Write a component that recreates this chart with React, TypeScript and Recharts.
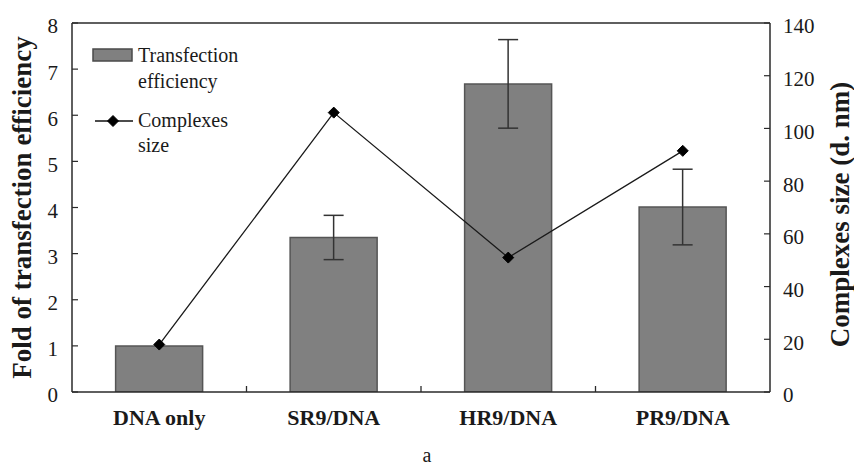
import React from 'react';
import { ComposedChart, Bar, Line, XAxis, YAxis, ErrorBar, ReferenceLine, Legend } from 'recharts';

const categories = ['DNA only', 'SR9/DNA', 'HR9/DNA', 'PR9/DNA'];
const efficiency = [1.0, 3.35, 6.68, 4.01];
const efficiencyError: (number | null)[] = [null, 0.48, 0.96, 0.82];
const complexSize = [18, 106, 51, 91.5];
const leftTicks = [0, 1, 2, 3, 4, 5, 6, 7, 8];
const rightTicks = [0, 20, 40, 60, 80, 100, 120, 140];
const seriesNames = ['Transfection efficiency', 'Complexes size'];
const leftTitle = 'Fold of transfection efficiency';
const rightTitle = 'Complexes size (d. nm)';
const panelLabel = 'a';

const data = categories.map((c, i) => ({
  category: c,
  efficiency: efficiency[i],
  err: efficiencyError[i],
  size: complexSize[i],
}));

const FONT = 'Liberation Serif, Tinos, DejaVu Serif, serif';
const AXIS = '#2a2a2a';
const TEXT = '#1a1a1a';

const Diamond = (props: any) => {
  const { cx, cy } = props;
  if (cx == null || cy == null) return null;
  const r = 5.5;
  return (
    <polygon
      points={`${cx},${cy - r} ${cx + r},${cy} ${cx},${cy + r} ${cx - r},${cy}`}
      fill="#000"
      stroke="#000"
    />
  );
};

const CategoryTick = (props: any) => {
  const { x, y, payload, index } = props;
  const half = payload && typeof payload.offset === 'number' && payload.offset > 0 ? payload.offset : 87.25;
  return (
    <g>
      <text
        x={x}
        y={y + 33}
        textAnchor="middle"
        style={{ fontFamily: FONT, fontWeight: 'bold', fontSize: 22 }}
        fill={TEXT}
      >
        {payload.value}
      </text>
      {index < categories.length - 1 && (
        <line x1={x + half} x2={x + half} y1={y} y2={y - 6} stroke={AXIS} strokeWidth={1.3} />
      )}
    </g>
  );
};

const renderLegend = (props: any) => {
  const payload = props.payload || [];
  const bar = payload.find((p: any) => p.dataKey === 'efficiency');
  const line = payload.find((p: any) => p.dataKey === 'size');
  const split = (s: string) => {
    const i = s.indexOf(' ');
    return [s.slice(0, i), s.slice(i + 1)];
  };
  const barName = split(bar ? String(bar.value) : seriesNames[0]);
  const lineName = split(line ? String(line.value) : seriesNames[1]);
  const ts = { style: { fontFamily: FONT, fontSize: 20 }, fill: TEXT } as any;
  return (
    <svg width={300} height={170} style={{ display: 'block' }}>
      <rect x={93} y={49} width={39} height={12} fill="#808080" stroke="#4a4a4a" strokeWidth={1.5} />
      <text x={138} y={62} {...ts}>{barName[0]}</text>
      <text x={138} y={88} {...ts}>{barName[1]}</text>
      <line x1={95} x2={133} y1={121} y2={121} stroke="#111" strokeWidth={1.5} />
      <Diamond cx={113} cy={121} />
      <text x={138} y={127} {...ts}>{lineName[0]}</text>
      <text x={138} y={152} {...ts}>{lineName[1]}</text>
    </svg>
  );
};

export default function App() {
  return (
    <div style={{ position: 'absolute', left: 0, top: 0, width: 854, height: 471, background: '#fff', fontFamily: FONT }}>
      <ComposedChart
        width={854}
        height={471}
        data={data}
        margin={{ top: 23, right: 34, bottom: 49, left: 22 }}
        barCategoryGap="25%"
        style={{ fontFamily: FONT }}
      >
        <XAxis
          dataKey="category"
          height={30}
          axisLine={{ stroke: AXIS, strokeWidth: 1.5 }}
          tickLine={false}
          tickSize={0}
          tickMargin={0}
          interval={0}
          tick={<CategoryTick />}
          label={{
            content: (p: any) => {
              const vb = p.viewBox || { x: 72, width: 698, y: 392 };
              return (
                <text x={427} y={vb.y + 70} textAnchor="middle" style={{ fontFamily: FONT, fontSize: 20 }} fill={TEXT}>
                  {panelLabel}
                </text>
              );
            },
          }}
        />
        <YAxis
          yAxisId="left"
          width={50}
          domain={[0, 8]}
          ticks={leftTicks}
          interval={0}
          allowDataOverflow
          axisLine={{ stroke: AXIS, strokeWidth: 1.5 }}
          tickLine={{ stroke: AXIS, strokeWidth: 1.2 }}
          tickSize={-6}
          tickMargin={20}
          tick={{ style: { fontFamily: FONT, fontSize: 21 }, fill: TEXT, dy: 3 }}
          label={{
            content: (p: any) => {
              const vb = p.viewBox;
              const cx = vb.x;
              const cy = vb.y + vb.height / 2;
              return (
                <text
                  x={cx}
                  y={cy}
                  transform={`rotate(-90 ${cx} ${cy})`}
                  textAnchor="middle"
                  dominantBaseline="central"
                  style={{ fontFamily: FONT, fontWeight: 'bold', fontSize: 27 }}
                  fill={TEXT}
                >
                  {leftTitle}
                </text>
              );
            },
          }}
        />
        <YAxis
          yAxisId="right"
          orientation="right"
          width={50}
          domain={[0, 140]}
          ticks={rightTicks}
          interval={0}
          allowDataOverflow
          axisLine={{ stroke: AXIS, strokeWidth: 1.5 }}
          tickLine={{ stroke: AXIS, strokeWidth: 1.2 }}
          tickSize={-6}
          tickMargin={19}
          tick={{ style: { fontFamily: FONT, fontSize: 21 }, fill: TEXT, dy: 3 }}
          label={{
            content: (p: any) => {
              const vb = p.viewBox;
              const cx = vb.x + 70;
              const cy = vb.y + vb.height / 2 + 7;
              return (
                <text
                  x={cx}
                  y={cy}
                  transform={`rotate(-90 ${cx} ${cy})`}
                  textAnchor="middle"
                  dominantBaseline="central"
                  style={{ fontFamily: FONT, fontWeight: 'bold', fontSize: 27 }}
                  fill={TEXT}
                >
                  {rightTitle}
                </text>
              );
            },
          }}
        />
        <ReferenceLine yAxisId="left" y={8} stroke={AXIS} strokeWidth={1.5} />
        <Legend
          layout="vertical"
          align="center"
          verticalAlign="middle"
          wrapperStyle={{ left: 0, top: 0, width: 300, height: 170 }}
          content={renderLegend}
        />
        <Bar
          yAxisId="left"
          dataKey="efficiency"
          name={seriesNames[0]}
          fill="#808080"
          stroke="#555"
          strokeWidth={1.5}
          isAnimationActive={false}
        >
          <ErrorBar dataKey="err" width={10} stroke="#333" strokeWidth={1.5} direction="y" />
        </Bar>
        <Line
          yAxisId="right"
          dataKey="size"
          name={seriesNames[1]}
          stroke="#1a1a1a"
          strokeWidth={1.3}
          dot={<Diamond />}
          activeDot={false}
          isAnimationActive={false}
          type="linear"
        />
      </ComposedChart>
    </div>
  );
}
